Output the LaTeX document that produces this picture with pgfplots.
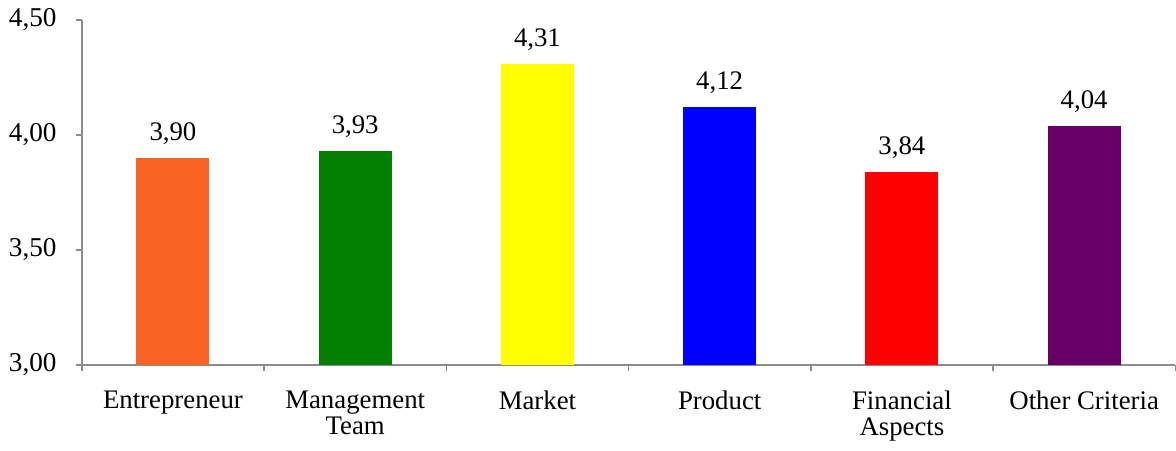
\documentclass[border=0pt]{standalone}
\usepackage{pgfplots}
\pgfplotsset{compat=1.18}
\usepackage{fontspec}
\setmainfont{Liberation Serif}
\definecolor{cOrange}{HTML}{F96424}
\definecolor{cGreen}{HTML}{007F00}
\definecolor{cYellow}{HTML}{FFFF00}
\definecolor{cBlue}{HTML}{0000FF}
\definecolor{cRed}{HTML}{FF0000}
\definecolor{cPurple}{HTML}{660066}
\definecolor{axgray}{HTML}{8C8C8C}
\begin{document}
\fontsize{13.4pt}{14pt}\selectfont
\begin{tikzpicture}
\begin{axis}[
  scale only axis,
  width=547pt, height=172.5pt,
  xmin=-0.5, xmax=5.5,
  ymin=3, ymax=4.5,
  ytick={3,3.5,4,4.5},
  xtick={0,1,2,3,4,5},
  xticklabels={Entrepreneur,{Management\\Team},Market,Product,{Financial\\Aspects},Other Criteria},
  minor xtick={-0.5,0.5,1.5,2.5,3.5,4.5,5.5},
  axis x line*=bottom, axis y line*=left,
  axis line style={draw=axgray, line width=0.7pt},
  tick align=outside,
  major tick length=3pt, minor tick length=3pt,
  major x tick style={draw=none},
  minor x tick style={draw=axgray, line width=0.7pt},
  major y tick style={draw=axgray, line width=0.7pt},
  xticklabel style={align=center, font=\fontsize{13.4pt}{13pt}\selectfont, yshift=-5.5pt},
  yticklabel style={font=\fontsize{13.6pt}{14pt}\selectfont, xshift=-5pt},
  /pgf/number format/.cd, use comma, fixed, fixed zerofill, precision=2, assume math mode=true,
  /pgfplots/.cd,
  ybar=0pt, bar width=36.5pt, bar shift=0pt,
  nodes near coords,
  nodes near coords style={font=\fontsize{13.4pt}{14pt}\selectfont, anchor=south, yshift=2pt,
    /pgf/number format/.cd, use comma, fixed, fixed zerofill, precision=2, assume math mode=true},
  clip=false,
]
\addplot[fill=cOrange, draw=none] coordinates {(0,3.90)};
\addplot[fill=cGreen, draw=none] coordinates {(1,3.93)};
\addplot[fill=cYellow, draw=none] coordinates {(2,4.31)};
\addplot[fill=cBlue, draw=none] coordinates {(3,4.12)};
\addplot[fill=cRed, draw=none] coordinates {(4,3.84)};
\addplot[fill=cPurple, draw=none] coordinates {(5,4.04)};
\end{axis}
\end{tikzpicture}
\end{document}
